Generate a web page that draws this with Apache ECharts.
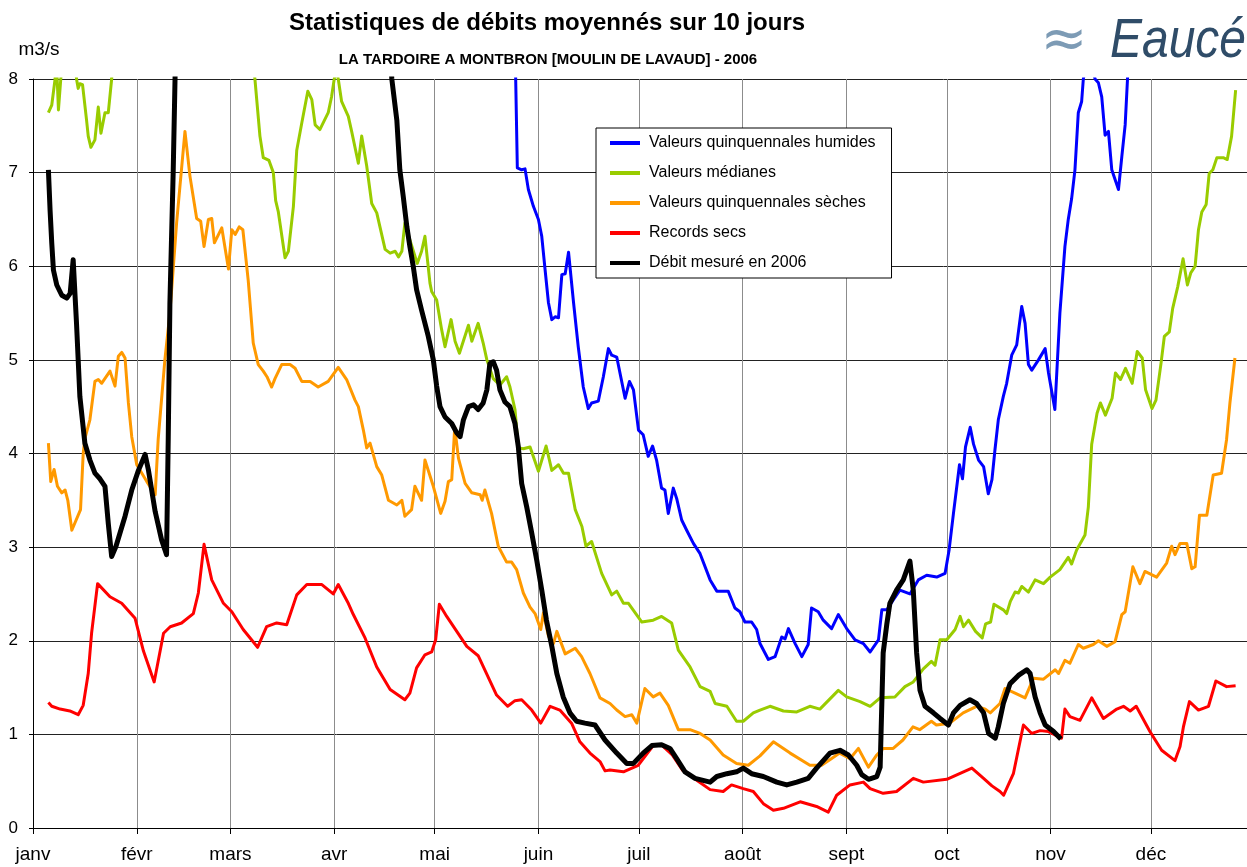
<!DOCTYPE html>
<html>
<head>
<meta charset="utf-8">
<script src="https://cdn.jsdelivr.net/npm/echarts@6/dist/echarts.min.js"></script>
<style>
  html, body { margin: 0; padding: 0; background: #fff; }
  #chart { width: 1247px; height: 867px; }
</style>
</head>
<body>
<div id="chart"></div>
<script>
// Day-of-year of each month start and the month labels drawn under them
const monthStartDays = [0, 31, 59, 90, 120, 151, 181, 212, 243, 273, 304, 334];
const monthLabels = ['janv', 'févr', 'mars', 'avr', 'mai', 'juin', 'juil', 'août', 'sept', 'oct', 'nov', 'déc'];

const seriesNames = [
  'Valeurs quinquennales humides',
  'Valeurs médianes',
  'Valeurs quinquennales sèches',
  'Records secs',
  'Débit mesuré en 2006'
];

// [day of year, flow m3/s] — 10-day moving averages
const humides = [
  [143, 9.0], [143.9, 8.6], [144.7, 7.05], [146, 7.03], [147, 7.04], [148, 6.82], [149.5, 6.64], [151, 6.5],
  [152, 6.32], [153, 5.96], [154, 5.61], [155, 5.43], [156, 5.46], [157, 5.45], [158, 5.91], [159, 5.92],
  [160, 6.15], [161.5, 5.61], [162.9, 5.14], [164.4, 4.71], [165.9, 4.48], [166.9, 4.54], [168.9, 4.56],
  [170.4, 4.82], [171.9, 5.12], [172.9, 5.05], [174.4, 5.03], [176.9, 4.59], [178.2, 4.77], [179.4, 4.68],
  [180.9, 4.25], [182.3, 4.2], [183.8, 3.97], [185.1, 4.08], [186.3, 3.93], [187.8, 3.63], [188.8, 3.61],
  [189.8, 3.36], [191.3, 3.63], [192.3, 3.52], [193.8, 3.29], [195.3, 3.18], [197.3, 3.04], [199.3, 2.93],
  [202.3, 2.65], [204.3, 2.53], [207.7, 2.53], [209.7, 2.35], [211.2, 2.31], [212.7, 2.2], [214.7, 2.2],
  [216.2, 2.12], [217.2, 1.97], [219.7, 1.8], [221.7, 1.83], [223.7, 2.04], [224.7, 2.02], [225.7, 2.13],
  [227.7, 1.97], [229.7, 1.83], [231.6, 1.96], [232.6, 2.35], [234.6, 2.31], [236.1, 2.22], [238.6, 2.13],
  [240.6, 2.28], [243.1, 2.13], [245.6, 2.01], [248.1, 1.97], [250.1, 1.88], [252.6, 2.01], [253.6, 2.33],
  [255.1, 2.33], [257.1, 2.44], [259, 2.54], [262, 2.5], [264.5, 2.65], [267, 2.7], [270, 2.68],
  [272.5, 2.72], [273.7, 2.97], [275, 3.36], [276.8, 3.88], [277.7, 3.73], [278.6, 4.07], [280, 4.28],
  [281, 4.1], [282.5, 3.93], [284, 3.86], [285.4, 3.57], [286.5, 3.72], [287.4, 4.04], [288.4, 4.36],
  [289.9, 4.61], [290.9, 4.75], [292.4, 5.05], [293.9, 5.16], [295.4, 5.57], [296.4, 5.39], [297.4, 4.95],
  [298.4, 4.89], [300.4, 5.0], [302.4, 5.12], [303.4, 4.86], [305.3, 4.47], [306.8, 5.5], [308.3, 6.21],
  [309.3, 6.5], [310.3, 6.72], [311.3, 7.03], [312.3, 7.64], [313.3, 7.76], [313.8, 8.0], [315.5, 8.3],
  [317.3, 8.0], [318.3, 7.96], [319.3, 7.81], [320.3, 7.4], [321.3, 7.44], [322.3, 7.03], [324.3, 6.82],
  [325.3, 7.17], [326.3, 7.51], [327, 8.0], [328, 9.0]
];

const medianes = [
  [4.6, 7.64], [5.6, 7.72], [6.6, 8.0], [7.0, 8.2], [7.6, 7.67], [8.3, 8.0], [9.5, 8.5], [12, 8.5], [13, 8.0],
  [13.5, 7.9], [14, 7.95], [14.8, 7.94], [16, 7.56], [16.5, 7.39], [17.3, 7.27], [18.5, 7.35], [19.5, 7.7],
  [20.3, 7.42], [21.5, 7.64], [22.5, 7.64], [23.5, 8.0], [25, 8.8], [64, 8.8], [66.3, 8.0], [67.8, 7.39],
  [68.8, 7.16], [70.5, 7.13], [71.8, 7.0], [72.5, 6.7], [73.3, 6.58], [75.3, 6.09], [76.3, 6.16], [77.8, 6.64],
  [78.8, 7.24], [80.3, 7.53], [82.1, 7.87], [83.3, 7.78], [84.3, 7.51], [85.7, 7.46], [88.2, 7.64],
  [89.2, 7.81], [90, 8.0], [90.6, 8.1], [91.2, 8.0], [92.2, 7.76], [94.2, 7.6], [95.2, 7.44], [97.2, 7.1],
  [98.2, 7.39], [99.7, 7.07], [101.2, 6.67], [102.7, 6.57], [105.2, 6.18], [106.7, 6.14], [108.2, 6.16],
  [109.2, 6.1], [110.2, 6.16], [111.1, 6.46], [112.6, 6.28], [114.8, 6.03], [116.1, 6.16], [117.1, 6.32],
  [118.6, 5.82], [119.1, 5.73], [120.6, 5.64], [122.1, 5.32], [123.1, 5.14], [124.9, 5.43], [126.1, 5.2],
  [127.4, 5.07], [130.1, 5.37], [131.1, 5.2], [133, 5.39], [134.5, 5.18], [135.6, 5.0], [137.5, 4.8],
  [139.5, 4.73], [141.5, 4.82], [142.5, 4.71], [144, 4.47], [145, 4.06], [146.5, 4.05], [148.5, 4.07],
  [151, 3.81], [153.3, 4.08], [155, 3.82], [157, 3.88], [158.5, 3.79], [160, 3.79], [162, 3.4], [164, 3.22],
  [165.2, 3.01], [166.9, 3.06], [169.9, 2.72], [172.9, 2.49], [174.4, 2.53], [176.4, 2.4], [177.9, 2.4],
  [181.9, 2.2], [185.3, 2.22], [187.8, 2.26], [190.8, 2.19], [192.8, 1.9], [196.3, 1.72], [199.3, 1.51],
  [202.3, 1.46], [203.8, 1.33], [207.3, 1.3], [210.2, 1.14], [212.2, 1.14], [215.2, 1.23], [217.2, 1.26],
  [220.2, 1.3], [224.2, 1.25], [228.2, 1.24], [232.1, 1.3], [235.1, 1.27], [240.6, 1.47], [243.1, 1.4],
  [247.1, 1.35], [250.1, 1.3], [253.1, 1.39], [257.5, 1.4], [260.5, 1.51], [263, 1.56], [266, 1.7],
  [268.4, 1.78], [269.5, 1.74], [271, 2.01], [273, 2.01], [275.5, 2.12], [277, 2.26], [278, 2.15],
  [279.5, 2.22], [281.6, 2.1], [283.6, 2.03], [284.6, 2.18], [286.1, 2.2], [287.1, 2.39], [289.9, 2.33],
  [290.9, 2.29], [292, 2.42], [293.4, 2.52], [294.4, 2.51], [295.4, 2.58], [297.4, 2.52], [299.4, 2.65],
  [301.9, 2.61], [303.9, 2.68], [306.8, 2.76], [309.3, 2.89], [310.3, 2.82], [311.8, 2.97], [314.3, 3.13],
  [315.3, 3.43], [316.3, 4.1], [317.9, 4.43], [318.9, 4.54], [320.4, 4.41], [322.4, 4.59], [323.4, 4.86],
  [324.9, 4.79], [326.4, 4.91], [328.4, 4.75], [329.9, 5.09], [331.4, 5.02], [332.4, 4.68], [334.3, 4.48],
  [335.5, 4.57], [337, 4.96], [338, 5.25], [339.5, 5.3], [340.5, 5.55], [342, 5.78], [343.6, 6.08],
  [344.9, 5.8], [345.9, 5.93], [347.2, 6.0], [348.2, 6.39], [349.2, 6.58], [350.5, 6.66], [351.4, 6.99],
  [352.5, 7.03], [353.7, 7.16], [355.6, 7.16], [356.8, 7.14], [358.1, 7.39], [359.3, 7.88]
];

const seches = [
  [4.6, 4.11], [5.3, 3.7], [6.3, 3.83], [7.3, 3.65], [8.6, 3.58], [9.6, 3.61], [10.4, 3.5], [11.6, 3.18],
  [14.2, 3.4], [15, 4.0], [15.5, 4.16], [17, 4.36], [18.5, 4.77], [19.5, 4.79], [20.5, 4.75], [23, 4.88],
  [24.5, 4.72], [25.5, 5.04], [26.5, 5.08], [27.5, 5.02], [28.5, 4.54], [29.5, 4.18], [31, 3.88], [34, 3.7],
  [36.5, 3.56], [37.4, 4.15], [39.4, 5.0], [40.9, 5.5], [42.9, 6.46], [45.4, 7.44], [46.9, 6.96],
  [48.9, 6.51], [50.1, 6.48], [51.1, 6.21], [52.4, 6.5], [53.4, 6.51], [54.2, 6.25], [56.4, 6.41],
  [58.4, 5.97], [59.4, 6.39], [60.4, 6.34], [61.6, 6.42], [62.7, 6.39], [64.3, 5.85], [65.8, 5.18],
  [67.3, 4.95], [68.8, 4.88], [69.9, 4.82], [71.3, 4.71], [72.3, 4.8], [74.3, 4.95], [76.8, 4.95],
  [78.3, 4.91], [80.3, 4.77], [82.8, 4.77], [85.2, 4.71], [88.2, 4.77], [91.2, 4.92], [93.7, 4.79],
  [96.2, 4.57], [97.2, 4.5], [98.7, 4.25], [99.7, 4.06], [100.7, 4.11], [102.7, 3.86], [104.2, 3.77],
  [106.2, 3.5], [108.7, 3.45], [110.2, 3.5], [111.1, 3.33], [113.1, 3.4], [114.1, 3.65], [116.1, 3.5],
  [117.1, 3.93], [119.6, 3.65], [121.8, 3.36], [123.1, 3.49], [124.1, 3.7], [125.1, 3.72], [126, 4.28],
  [127.1, 3.95], [129.1, 3.68], [131.1, 3.58], [133.6, 3.56], [134.2, 3.5], [135, 3.61], [137, 3.36],
  [139, 3.01], [141.5, 2.84], [143, 2.84], [144.5, 2.76], [146.5, 2.51], [148.5, 2.36], [150, 2.29],
  [151.7, 2.12], [152.5, 2.3], [154, 2.05], [155.5, 1.97], [156.5, 2.1], [159, 1.86], [162, 1.92],
  [163.9, 1.83], [166.4, 1.65], [169.4, 1.39], [172.4, 1.33], [174.4, 1.26], [176.9, 1.19], [178.9, 1.21],
  [180.4, 1.12], [182.8, 1.49], [185.3, 1.4], [187.3, 1.44], [189.8, 1.31], [192.8, 1.05], [196.3, 1.05],
  [199.3, 1.01], [202.3, 0.94], [206.2, 0.78], [210.2, 0.69], [213.7, 0.67], [217.2, 0.77], [221.2, 0.92],
  [226.2, 0.8], [232.1, 0.67], [235.6, 0.67], [238.5, 0.74], [241, 0.8], [244.1, 0.74], [246.6, 0.85],
  [249.6, 0.65], [252.1, 0.78], [254, 0.85], [257, 0.85], [259.9, 0.94], [262.9, 1.08], [264.9, 1.05],
  [268.4, 1.14], [269.9, 1.1], [273.9, 1.12], [277.9, 1.23], [281.9, 1.3], [284.5, 1.27], [286, 1.23],
  [288.9, 1.33], [290.4, 1.49], [293.4, 1.44], [296.4, 1.39], [298.9, 1.6], [301.9, 1.59], [305.4, 1.69],
  [306.4, 1.65], [308.3, 1.79], [309.8, 1.76], [312.3, 1.96], [313.8, 1.92], [316.8, 1.96], [318.3, 2.0],
  [320.8, 1.94], [323.3, 1.99], [325.3, 2.28], [326.3, 2.31], [328.6, 2.79], [330.7, 2.61], [332.2, 2.74],
  [335.7, 2.68], [338.7, 2.83], [340.2, 3.01], [341.2, 2.92], [342.7, 3.04], [344.7, 3.04], [346.2, 2.77],
  [347.2, 2.79], [348.5, 3.34], [350.7, 3.34], [352.6, 3.77], [355.1, 3.79], [356.6, 4.15], [357.6, 4.54],
  [359.1, 5.02]
];

const recordsSecs = [
  [4.6, 1.34], [5.6, 1.3], [8.1, 1.27], [11, 1.25], [13.5, 1.21], [15, 1.31], [16.5, 1.65], [17.5, 2.08],
  [19.3, 2.61], [23, 2.47], [26.5, 2.4], [30.5, 2.24], [33, 1.89], [36.2, 1.56], [39, 2.08], [41, 2.15],
  [44.4, 2.19], [47.9, 2.29], [49.4, 2.51], [51.1, 3.03], [53.4, 2.65], [56.9, 2.4], [59.4, 2.31],
  [62.8, 2.12], [67.1, 1.93], [69.8, 2.15], [72.8, 2.19], [75.8, 2.17], [78.8, 2.49], [81.8, 2.6],
  [86.3, 2.6], [89.7, 2.5], [91.2, 2.6], [94.2, 2.4], [95.7, 2.28], [99.2, 2.03], [102.7, 1.72],
  [106.7, 1.48], [111.1, 1.37], [112.6, 1.44], [114.6, 1.71], [117.1, 1.85], [119.1, 1.88], [120.3, 2.01],
  [121.4, 2.39], [123.6, 2.26], [129.6, 1.94], [133, 1.84], [138.5, 1.42], [141.8, 1.3], [144, 1.36],
  [146, 1.37], [149, 1.26], [151.7, 1.12], [154.5, 1.3], [157.4, 1.26], [160.9, 1.12], [163.4, 0.92],
  [166.4, 0.8], [169.4, 0.71], [170.9, 0.61], [172.4, 0.62], [176.4, 0.6], [180.8, 0.67], [185.3, 0.88],
  [188, 0.88], [191, 0.78], [194, 0.62], [198.3, 0.51], [202.3, 0.41], [206.2, 0.39], [208.7, 0.46],
  [212.2, 0.42], [215.2, 0.39], [218.2, 0.26], [221.2, 0.19], [224.2, 0.21], [229.2, 0.28], [234.1, 0.23],
  [237.6, 0.17], [240.1, 0.35], [244.1, 0.46], [248.1, 0.49], [250.1, 0.42], [254, 0.37], [258, 0.39],
  [263, 0.53], [266, 0.49], [273, 0.52], [280.5, 0.64], [284, 0.53], [286.5, 0.45], [288.9, 0.39],
  [290, 0.35], [292.9, 0.58], [295.9, 1.1], [298.4, 1.01], [300.9, 1.04], [303.4, 1.03], [307.3, 0.96],
  [308.3, 1.27], [309.8, 1.19], [312.8, 1.15], [316.3, 1.39], [319.8, 1.17], [323.8, 1.27], [325.8, 1.3],
  [327.8, 1.25], [329.6, 1.3], [333.7, 1.03], [337.2, 0.83], [341.2, 0.72], [342.7, 0.87], [343.7, 1.08],
  [345.5, 1.35], [348.2, 1.26], [351.2, 1.3], [353.4, 1.57], [356.6, 1.51], [359.3, 1.52]
];

const mesure2006 = [
  [4.6, 7.03], [5.1, 6.6], [5.6, 6.25], [6.1, 5.96], [7.1, 5.8], [8.6, 5.69], [10.1, 5.66], [11.1, 5.71],
  [12, 6.07], [13, 5.39], [14, 4.61], [15.5, 4.11], [17, 3.93], [18.5, 3.79], [20, 3.73], [21.5, 3.65],
  [22.5, 3.25], [23.5, 2.9], [24.8, 3.01], [27.5, 3.33], [29.5, 3.61], [31.5, 3.82], [33.5, 3.99],
  [34.5, 3.82], [36.5, 3.38], [38.4, 3.08], [39.9, 2.92], [40.4, 4.15], [40.9, 5.6], [41.9, 7.03],
  [42.6, 8.3], [44, 9.5], [105, 9.5], [107.2, 8.0], [108.7, 7.56], [109.6, 7.03], [110.6, 6.75],
  [111.7, 6.42], [112.6, 6.21], [113.6, 6.0], [114.6, 5.75], [116.1, 5.53], [118.1, 5.25], [119.6, 5.0],
  [120.6, 4.72], [121.6, 4.5], [123.1, 4.39], [125.1, 4.32], [126.6, 4.22], [127.6, 4.18], [128.6, 4.36],
  [130.1, 4.5], [131.6, 4.52], [133, 4.47], [134.5, 4.54], [135.6, 4.68], [136.5, 4.96], [137.5, 4.98],
  [138.5, 4.89], [139.5, 4.68], [141, 4.55], [142.5, 4.5], [144, 4.32], [145, 4.07], [146, 3.68],
  [147.5, 3.43], [149, 3.15], [150.5, 2.86], [152, 2.54], [153.4, 2.22], [155, 1.94], [156.5, 1.65],
  [158.4, 1.4], [160.4, 1.23], [162.4, 1.14], [164.9, 1.12], [167.9, 1.1], [170.9, 0.94], [174.4, 0.8],
  [177.4, 0.69], [179.4, 0.69], [182.3, 0.8], [184.9, 0.88], [187.8, 0.89], [190.3, 0.85], [192.3, 0.74],
  [194.8, 0.6], [197.8, 0.53], [202.3, 0.49], [204.3, 0.55], [207.3, 0.58], [210.2, 0.6], [212.2, 0.64],
  [214.7, 0.58], [218.2, 0.55], [222.2, 0.49], [225.2, 0.46], [228.2, 0.49], [231.6, 0.53], [234.1, 0.64],
  [238.1, 0.8], [241.1, 0.83], [243.6, 0.78], [246.1, 0.67], [247.6, 0.57], [249.6, 0.52], [252.1, 0.55],
  [253.1, 0.65], [254, 1.87], [255.1, 2.18], [256, 2.4], [258, 2.54], [260, 2.65], [262, 2.85], [263, 2.54],
  [264, 1.87], [265, 1.47], [266.5, 1.3], [269, 1.23], [271, 1.17], [273.5, 1.1], [275, 1.23], [277, 1.31],
  [279.9, 1.37], [281.9, 1.33], [284, 1.23], [285.5, 1.01], [287.5, 0.96], [288.4, 1.08], [289.9, 1.33],
  [291.9, 1.54], [294.4, 1.63], [296.9, 1.69], [297.9, 1.65], [299.4, 1.4], [300.9, 1.23], [302.4, 1.1],
  [304.9, 1.03], [307.1, 0.95]
];

const seriesData = [humides, medianes, seches, recordsSecs, mesure2006];
const seriesColors = ['#0000ff', '#99cc00', '#ff9900', '#ff0000', '#000000'];
const seriesWidths = [3, 3, 3, 3, 5];

const FONT = '"Liberation Sans", Arial, sans-serif';

const chart = echarts.init(document.getElementById('chart'), null, { renderer: 'canvas' });

chart.setOption({
  backgroundColor: '#ffffff',
  animation: false,
  textStyle: { fontFamily: FONT },
  grid: { left: 33, top: 79, right: 0, bottom: 39, containLabel: false },
  xAxis: {
    type: 'value',
    min: 0,
    max: 362.7,
    axisLine: { show: true, onZero: false, lineStyle: { color: '#000', width: 1 } },
    axisTick: { show: true, customValues: monthStartDays, length: 6, lineStyle: { color: '#000' } },
    axisLabel: {
      customValues: monthStartDays,
      formatter: v => monthLabels[monthStartDays.indexOf(v)] || '',
      fontSize: 19, color: '#000', margin: 17, fontFamily: FONT
    },
    splitLine: { show: true, lineStyle: { color: '#8c8c8c', width: 1 } }
  },
  yAxis: {
    type: 'value',
    min: 0,
    max: 8,
    interval: 1,
    axisLine: { show: true, lineStyle: { color: '#000', width: 1 } },
    axisTick: { show: true, length: 4, lineStyle: { color: '#000' } },
    axisLabel: { fontSize: 17, color: '#000', margin: 15, fontFamily: FONT },
    splitLine: { show: true, lineStyle: { color: '#222', width: 1 } }
  },
  legend: {
    orient: 'vertical',
    left: 596,
    top: 128,
    itemWidth: 30,
    itemHeight: 4,
    itemGap: 12,
    icon: 'rect',
    padding: [6, 16, 6, 14],
    backgroundColor: '#fff',
    borderColor: '#000',
    borderWidth: 1,
    borderRadius: 0,
    textStyle: { fontSize: 16, lineHeight: 18, color: '#000', fontFamily: FONT, padding: [0, 0, 0, 4] },
    data: seriesNames
  },
  graphic: [
    {
      type: 'text', x: 547, y: 23,
      style: {
        text: 'Statistiques de débits moyennés sur 10 jours',
        font: 'bold 24px ' + FONT, fill: '#000',
        align: 'center', verticalAlign: 'middle', textAlign: 'center', textVerticalAlign: 'middle'
      }
    },
    {
      type: 'text', x: 548, y: 60,
      style: {
        text: 'LA TARDOIRE A MONTBRON [MOULIN DE LAVAUD] - 2006',
        font: 'bold 15px ' + FONT, fill: '#000',
        align: 'center', verticalAlign: 'middle', textAlign: 'center', textVerticalAlign: 'middle'
      }
    },
    {
      type: 'text', x: 39, y: 50,
      style: {
        text: 'm3/s', font: '19px ' + FONT, fill: '#000',
        align: 'center', verticalAlign: 'middle', textAlign: 'center', textVerticalAlign: 'middle'
      }
    },
    {
      type: 'text', x: 1064, y: 42,
      style: {
        text: '≈', font: 'italic 56px "DejaVu Sans"', fill: '#7d9bb5',
        align: 'center', verticalAlign: 'middle', textAlign: 'center', textVerticalAlign: 'middle'
      }
    },
    {
      type: 'text', x: 1178, y: 42, scaleY: 1.15,
      style: {
        text: 'Eaucé', font: 'italic 48px ' + FONT, fill: '#2f4c68',
        align: 'center', verticalAlign: 'middle', textAlign: 'center', textVerticalAlign: 'middle'
      }
    }
  ],
  series: seriesNames.map((name, i) => ({
    name,
    type: 'line',
    data: seriesData[i],
    showSymbol: false,
    symbol: 'none',
    clip: true,
    z: 2 + i,
    color: seriesColors[i],
    lineStyle: { color: seriesColors[i], width: seriesWidths[i], join: 'round' },
    emphasis: { disabled: true }
  }))
});
</script>
</body>
</html>
